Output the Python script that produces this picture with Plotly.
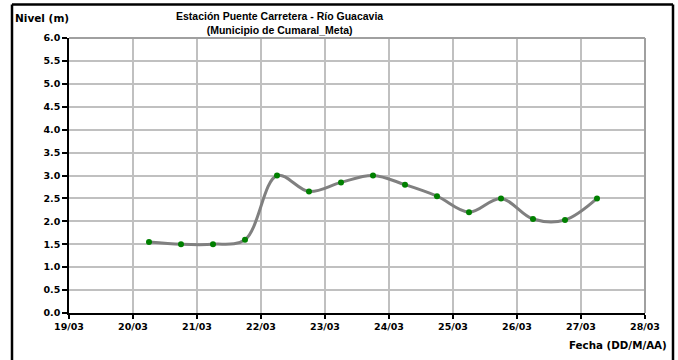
import plotly.graph_objects as go

fechas = ["2023-03-20 06:00", "2023-03-20 18:00", "2023-03-21 06:00", "2023-03-21 18:00",
          "2023-03-22 06:00", "2023-03-22 18:00", "2023-03-23 06:00", "2023-03-23 18:00",
          "2023-03-24 06:00", "2023-03-24 18:00", "2023-03-25 06:00", "2023-03-25 18:00",
          "2023-03-26 06:00", "2023-03-26 18:00", "2023-03-27 06:00"]
nivel = [1.55, 1.50, 1.50, 1.60, 3.00, 2.65, 2.85, 3.00, 2.80, 2.55, 2.20, 2.50, 2.05, 2.03, 2.50]
y_ticks = [0.0, 0.5, 1.0, 1.5, 2.0, 2.5, 3.0, 3.5, 4.0, 4.5, 5.0, 5.5, 6.0]

FONT = "Liberation Sans, Arial, sans-serif"
WIDE = "DejaVu Sans, sans-serif"

fig = go.Figure()
fig.add_trace(go.Scatter(
    x=fechas, y=nivel, mode="lines+markers",
    line=dict(color="#808080", width=3, shape="spline", smoothing=1.0),
    marker=dict(color="#008000", size=6),
    showlegend=False, hoverinfo="skip",
))

L, R, T, B = 69, 645, 37.5, 313
W, H = 678, 360
def px(x):
    return (x - L) / (R - L)
def py(y):
    return (B - y) / (B - T)

tickfont = dict(family=WIDE, size=9.5, color="black", weight="bold")

fig.update_layout(
    width=W, height=H,
    margin=dict(l=L, r=W - R, t=T, b=H - B),
    paper_bgcolor="white", plot_bgcolor="white",
    font=dict(family=FONT, size=10, color="black"),
    xaxis=dict(
        type="date", range=["2023-03-19", "2023-03-28"],
        dtick=86400000, tick0="2023-03-19", tickformat="%d/%m",
        showgrid=True, gridcolor="#c0c0c0", gridwidth=1.5,
        showline=True, linecolor="black", linewidth=1.5,
        ticks="outside", ticklen=4, tickcolor="black", tickwidth=1.5,
        tickfont=tickfont,
        zeroline=False, fixedrange=True,
    ),
    yaxis=dict(
        range=[0, 6], tickvals=y_ticks, ticktext=[f"{v:.1f}" for v in y_ticks],
        showgrid=True, gridcolor="#c0c0c0", gridwidth=1.5,
        showline=True, linecolor="black", linewidth=1.5,
        ticks="outside", ticklen=5, tickcolor="black", tickwidth=1.5,
        tickfont=tickfont,
        zeroline=False, fixedrange=True,
    ),
    shapes=[
        dict(type="line", xref="paper", yref="paper", x0=1, x1=1, y0=0, y1=1,
             line=dict(color="#a0a0a0", width=2)),
        dict(type="line", xref="paper", yref="paper", x0=0, x1=1, y0=1, y1=1,
             line=dict(color="#a0a0a0", width=2)),
        # outer frame
        dict(type="line", xref="paper", yref="paper", x0=px(12), x1=px(673), y0=py(4), y1=py(4),
             line=dict(color="black", width=2.5)),
        dict(type="line", xref="paper", yref="paper", x0=px(12), x1=px(12), y0=py(4), y1=py(362),
             line=dict(color="black", width=2.5)),
        dict(type="line", xref="paper", yref="paper", x0=px(673), x1=px(673), y0=py(4), y1=py(362),
             line=dict(color="black", width=2.5)),
    ],
    annotations=[
        dict(text="<b>Estación Puente Carretera - Río Guacavia<br>(Municipio de Cumaral_Meta)</b>",
             xref="paper", yref="paper", x=px(279), y=py(22), xanchor="center", yanchor="middle",
             showarrow=False, font=dict(family=FONT, size=10.5, color="black")),
        dict(text="<b>Nivel (m)</b>", xref="paper", yref="paper", x=px(13), y=py(17),
             xanchor="left", yanchor="middle", showarrow=False,
             font=dict(family=WIDE, size=10.5, color="black")),
        dict(text="<b>Fecha (DD/M/AA)</b>", xref="paper", yref="paper", x=px(669), y=py(345),
             xanchor="right", yanchor="middle", showarrow=False,
             font=dict(family=WIDE, size=10.3, color="black")),
    ],
)

fig.write_html("out.html", config={"displayModeBar": False},
               post_script="document.body.style.margin='0';")
